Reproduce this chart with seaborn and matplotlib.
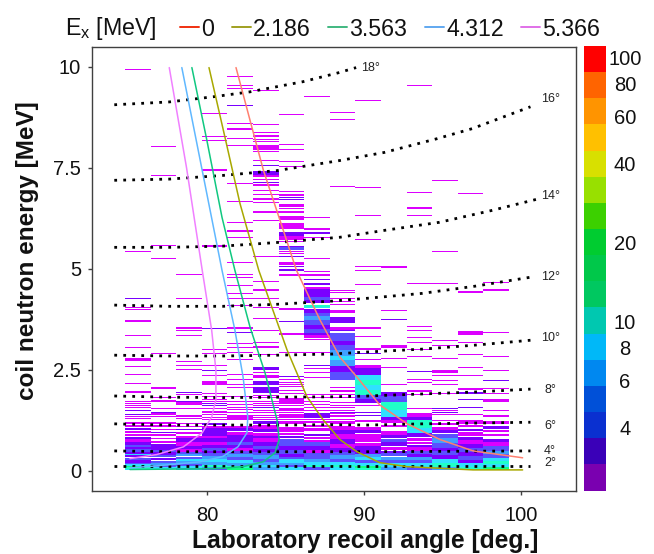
import pandas as pd
import matplotlib
matplotlib.use('Agg')
import matplotlib.pyplot as plt
from matplotlib.colors import ListedColormap, LogNorm
from matplotlib.cm import ScalarMappable
import seaborn as sns

# angular bins of the histogram [deg.]
angle_edges = [74.78, 76.41, 78.04, 79.67, 81.30, 82.93, 84.56, 86.19, 87.82,
               89.45, 91.08, 92.71, 94.34, 95.97, 97.60, 99.23]

# single counts per column, energy in MeV
c00_lines = [9.92, 5.42, 4.02, 3.97, 3.33, 3.03, 2.56, 2.36, 2.14, 1.70, 1.65, 1.60, 1.55, 1.32, 1.27]
c01_lines = [8.02, 7.30, 5.57, 5.25, 2.88, 1.79, 1.52, 1.33]
c02_lines = [4.85, 4.26, 3.52, 3.45, 3.33, 2.68, 2.58, 2.49, 1.87, 1.52, 1.34, 1.28]
c03_lines = [8.83, 8.26, 8.17, 7.43, 5.55, 2.98, 2.88, 2.58, 2.35, 1.90, 1.83, 1.75, 1.70, 1.52, 1.46, 1.42,
             1.37, 1.30, 1.26]
c04_lines = [9.75, 9.52, 9.45, 8.58, 8.21, 8.04, 7.10, 6.66, 6.14, 5.92, 5.75, 5.15, 4.84, 4.78, 4.57, 4.37,
             4.26, 4.07, 3.52, 3.13, 3.03, 2.91, 2.74, 2.36, 2.24, 2.11, 2.04, 1.82, 1.71, 1.63, 1.56, 1.50, 1.42]
c05_lines = [9.40, 8.56, 8.19, 8.13, 7.95, 7.89, 7.67, 7.20, 7.06, 6.92, 6.82, 6.63, 6.39, 6.17, 5.28, 4.68,
             4.46, 4.26, 4.02, 3.45, 3.16, 3.05, 2.86, 2.41, 1.85, 1.79, 1.71, 1.65, 1.60, 1.48, 1.42, 1.36, 1.30, 1.25]
c06_lines = [8.81, 8.07, 7.94, 7.65, 7.52, 6.90, 6.48, 5.65, 5.42, 5.36, 4.83, 3.37, 2.91, 2.24, 2.18, 2.12,
             2.07, 1.98, 1.90, 1.60, 1.43, 1.38, 1.34, 1.30, 1.26]
c07_lines = [9.25, 6.26, 5.97, 5.75, 5.25, 4.91, 4.83, 4.51, 3.23, 2.91, 2.51, 2.41, 2.29, 1.88, 1.79, 1.71,
             1.62, 1.55, 1.48, 1.26]
c08_lines = [8.86, 8.68, 7.03, 4.44, 4.39, 4.26, 4.18, 4.10, 2.04, 1.96, 1.88, 1.79, 1.67, 1.60, 1.55, 1.47,
             1.40, 1.34, 1.26]
c09_lines = [9.15, 7.00, 6.31, 5.70, 5.05, 4.94, 4.59, 3.52, 3.30, 3.00, 2.74, 1.60]
c10_lines = [5.03, 3.95, 2.76, 2.55, 2.12]
c11_lines = [9.53, 6.88, 6.49, 6.30, 4.63, 3.55, 3.45, 3.28, 3.15, 2.99, 2.81, 2.25, 2.18, 1.96, 1.88, 1.52]
c12_lines = [7.18, 5.42, 4.63, 3.21, 3.09, 2.76, 2.35, 2.21, 2.12, 1.90, 1.47, 1.38]
c13_lines = [6.85, 3.42, 3.37, 3.15, 2.86, 2.54, 2.35, 1.38]
c14_lines = [4.65, 4.46, 3.40, 2.81, 2.47, 2.02, 1.90, 1.47, 1.34]

# purple rows, two counts
c00_double = [4.24, 1.47, 1.37]
c01_double = [1.42]
c02_double = [1.92, 1.70]
c03_double = [3.50, 2.46, 1.65, 1.60]
c04_double = [9.03, 3.40]
c05_double = [7.55, 7.13, 2.53, 1.55]
c06_double = [6.76, 6.70, 6.20, 5.54, 5.28, 5.05, 4.95, 3.67, 2.31]
c07_double = [5.87, 4.72, 4.61, 2.58]
c08_double = [3.46, 1.42]
c09_double = [2.88, 1.42, 1.35]
c10_double = [3.72, 1.30]
c11_double = [2.45]
c12_double = [1.52, 1.42]
c13_double = [2.02, 1.75, 1.55]
c14_double = [2.22, 1.75]

# thicker blocks: low edge, high edge, level of the colour scale
c00_blocks = [(3.68, 3.73, 1), (2.72, 2.79, 1), (1.93, 1.97, 1),
              (1.15, 1.20, 1), (1.07, 1.12, 1), (1.00, 1.05, 2), (0.93, 0.99, 1), (0.86, 0.90, 1), (0.78, 0.84, 2),
              (0.70, 0.78, 1), (0.64, 0.70, 2), (0.58, 0.64, 3), (0.53, 0.58, 2), (0.47, 0.53, 3), (0.42, 0.47, 2),
              (0.40, 0.42, 5), (0.33, 0.39, 2), (0.27, 0.32, 3), (0.20, 0.26, 2), (0.16, 0.20, 3), (0.12, 0.16, 5),
              (0.09, 0.12, 7), (0.05, 0.09, 6), (0.02, 0.05, 5)]
c01_blocks = [(2.02, 2.07, 1), (1.70, 1.74, 1), (1.37, 1.42, 1),
              (1.15, 1.20, 1), (1.07, 1.12, 1), (1.00, 1.04, 1), (0.93, 0.97, 2), (0.85, 0.90, 1), (0.78, 0.82, 1),
              (0.68, 0.74, 1), (0.62, 0.66, 2), (0.52, 0.60, 2), (0.46, 0.52, 3), (0.40, 0.46, 2), (0.33, 0.38, 3),
              (0.26, 0.32, 2), (0.19, 0.25, 3), (0.14, 0.19, 4), (0.08, 0.14, 3), (0.03, 0.08, 5)]
c02_blocks = [(1.63, 1.70, 1),
              (1.15, 1.19, 1), (1.07, 1.11, 1), (1.00, 1.04, 2), (0.91, 0.97, 1), (0.80, 0.87, 1), (0.72, 0.80, 2),
              (0.62, 0.72, 1), (0.54, 0.62, 2), (0.47, 0.54, 1), (0.42, 0.47, 3), (0.37, 0.42, 4), (0.30, 0.34, 3),
              (0.23, 0.29, 5), (0.17, 0.23, 4), (0.11, 0.17, 3), (0.06, 0.11, 5), (0.02, 0.06, 4)]
c03_blocks = [(2.12, 2.21, 1),
              (1.12, 1.18, 2), (1.05, 1.10, 1), (0.97, 1.05, 2), (0.87, 0.95, 2), (0.80, 0.85, 1), (0.72, 0.80, 2),
              (0.64, 0.72, 1), (0.57, 0.64, 2), (0.50, 0.57, 3), (0.43, 0.50, 2), (0.36, 0.43, 3), (0.30, 0.36, 4),
              (0.22, 0.30, 5), (0.15, 0.22, 4), (0.10, 0.15, 6), (0.05, 0.10, 4), (0.02, 0.05, 3)]
c04_blocks = [(8.43, 8.49, 1), (1.26, 1.38, 1),
              (1.05, 1.10, 1), (0.98, 1.05, 2), (0.88, 0.96, 1), (0.80, 0.88, 2), (0.72, 0.80, 2), (0.64, 0.72, 3),
              (0.56, 0.64, 2), (0.48, 0.56, 1), (0.42, 0.48, 3), (0.34, 0.42, 4), (0.26, 0.34, 3), (0.18, 0.26, 5),
              (0.12, 0.18, 4), (0.07, 0.12, 6), (0.02, 0.07, 7)]
c05_blocks = [(8.35, 8.39, 1), (8.26, 8.32, 1), (7.99, 8.07, 1), (7.33, 7.42, 2), (7.27, 7.33, 1), (6.70, 6.76, 1),
              (3.75, 3.79, 1), (2.49, 2.53, 2), (2.29, 2.36, 1), (2.12, 2.21, 2), (1.92, 2.08, 2),
              (1.15, 1.22, 2), (1.03, 1.12, 1), (0.95, 1.03, 2), (0.87, 0.93, 1), (0.80, 0.87, 2), (0.70, 0.80, 1),
              (0.62, 0.70, 2), (0.54, 0.62, 3), (0.46, 0.54, 2), (0.38, 0.46, 3), (0.30, 0.38, 4), (0.22, 0.30, 3),
              (0.14, 0.22, 4), (0.08, 0.14, 5), (0.02, 0.08, 4)]
c06_blocks = [(6.79, 6.85, 1), (6.54, 6.61, 1), (6.38, 6.44, 1), (6.21, 6.31, 1), (5.98, 6.14, 1), (5.80, 5.90, 2),
              (5.70, 5.80, 1), (5.47, 5.54, 3), (5.09, 5.16, 1), (4.96, 5.00, 2), (3.98, 4.02, 1), (1.65, 1.79, 1),
              (1.47, 1.55, 1),
              (1.16, 1.22, 1), (1.02, 1.08, 1), (0.95, 1.00, 1), (0.88, 0.93, 1), (0.80, 0.86, 2), (0.72, 0.78, 3),
              (0.62, 0.72, 3), (0.52, 0.62, 2), (0.42, 0.52, 3), (0.34, 0.42, 2), (0.28, 0.34, 3), (0.20, 0.28, 5),
              (0.14, 0.20, 4), (0.08, 0.14, 3), (0.02, 0.08, 5)]
c07_blocks = [(4.30, 4.49, 2), (4.22, 4.30, 3), (4.14, 4.22, 2), (4.06, 4.10, 6), (4.02, 4.06, 5), (3.90, 4.00, 2),
              (3.84, 3.90, 3), (3.72, 3.84, 4), (3.60, 3.72, 3), (3.50, 3.60, 2), (3.42, 3.50, 3), (3.36, 3.42, 2),
              (3.28, 3.36, 1), (1.30, 1.42, 2),
              (1.17, 1.22, 1), (1.08, 1.12, 1), (0.98, 1.05, 1), (0.85, 0.92, 2), (0.78, 0.84, 1), (0.72, 0.77, 1),
              (0.62, 0.70, 3), (0.52, 0.62, 2), (0.44, 0.52, 1), (0.38, 0.44, 3), (0.30, 0.38, 3), (0.22, 0.30, 4),
              (0.14, 0.22, 5), (0.08, 0.14, 6), (0.02, 0.08, 3)]
c08_blocks = [(3.91, 3.97, 1), (3.65, 3.81, 2), (3.48, 3.56, 1), (3.20, 3.40, 3), (3.10, 3.20, 2), (3.00, 3.10, 3),
              (2.85, 3.00, 4), (2.75, 2.85, 5), (2.60, 2.75, 4), (2.45, 2.58, 2), (2.25, 2.45, 3),
              (1.16, 1.24, 1), (1.02, 1.10, 1), (0.92, 1.02, 2), (0.78, 0.92, 1), (0.66, 0.78, 2), (0.56, 0.66, 1),
              (0.46, 0.56, 2), (0.38, 0.46, 3), (0.30, 0.38, 4), (0.22, 0.30, 3), (0.14, 0.22, 5), (0.08, 0.14, 6),
              (0.02, 0.08, 5)]
c09_blocks = [(2.54, 2.62, 1), (2.37, 2.54, 2), (2.25, 2.37, 5), (2.12, 2.25, 6), (2.00, 2.12, 5), (1.88, 2.00, 6),
              (1.77, 1.88, 3), (1.67, 1.77, 2),
              (1.20, 1.25, 1), (1.02, 1.08, 1), (0.94, 1.00, 2), (0.82, 0.92, 1), (0.72, 0.82, 1), (0.60, 0.68, 1),
              (0.50, 0.60, 2), (0.42, 0.50, 2), (0.34, 0.42, 4), (0.26, 0.34, 5), (0.20, 0.26, 3), (0.12, 0.20, 5),
              (0.07, 0.12, 7), (0.02, 0.07, 6)]
c10_blocks = [(3.05, 3.11, 1), (1.85, 1.96, 2), (1.71, 1.85, 3), (1.50, 1.71, 6), (1.34, 1.50, 5), (1.26, 1.34, 2),
              (1.18, 1.25, 1), (1.08, 1.13, 1), (0.88, 0.98, 1), (0.80, 0.88, 2), (0.72, 0.78, 3), (0.62, 0.72, 2),
              (0.52, 0.58, 1), (0.44, 0.50, 2), (0.36, 0.44, 3), (0.26, 0.34, 4), (0.18, 0.26, 3), (0.10, 0.18, 5),
              (0.02, 0.10, 4)]
c11_blocks = [(1.32, 1.42, 1), (1.25, 1.32, 2),
              (1.06, 1.25, 6), (0.93, 1.06, 5), (0.84, 0.93, 2), (0.74, 0.82, 1), (0.66, 0.72, 1), (0.58, 0.64, 2),
              (0.50, 0.58, 1), (0.42, 0.50, 3), (0.34, 0.42, 2), (0.26, 0.34, 4), (0.18, 0.26, 3), (0.10, 0.18, 5),
              (0.02, 0.10, 3)]
c12_blocks = [(2.41, 2.49, 1),
              (1.22, 1.25, 1), (1.12, 1.18, 1), (1.02, 1.08, 1), (0.94, 1.02, 2), (0.82, 0.92, 3), (0.68, 0.82, 4),
              (0.56, 0.68, 3), (0.48, 0.56, 2), (0.40, 0.48, 3), (0.30, 0.40, 2), (0.20, 0.30, 5), (0.10, 0.20, 6),
              (0.02, 0.10, 4)]
c13_blocks = [(4.40, 4.44, 1), (2.00, 2.04, 1), (1.90, 1.96, 2),
              (1.16, 1.25, 1), (1.07, 1.14, 1), (0.98, 1.04, 2), (0.86, 0.96, 1), (0.76, 0.84, 2), (0.66, 0.76, 1),
              (0.56, 0.66, 2), (0.46, 0.56, 3), (0.36, 0.46, 2), (0.26, 0.36, 3), (0.18, 0.26, 2), (0.10, 0.18, 5),
              (0.02, 0.10, 6)]
c14_blocks = [(1.71, 1.77, 1),
              (1.16, 1.22, 1), (1.04, 1.10, 2), (0.96, 1.02, 1), (0.86, 0.92, 1), (0.72, 0.78, 2), (0.60, 0.70, 1),
              (0.50, 0.60, 3), (0.42, 0.50, 4), (0.32, 0.42, 3), (0.24, 0.32, 5), (0.16, 0.24, 6), (0.09, 0.16, 5),
              (0.02, 0.09, 7)]

all_lines = [c00_lines, c01_lines, c02_lines, c03_lines, c04_lines, c05_lines, c06_lines, c07_lines,
             c08_lines, c09_lines, c10_lines, c11_lines, c12_lines, c13_lines, c14_lines]
all_double = [c00_double, c01_double, c02_double, c03_double, c04_double, c05_double, c06_double, c07_double,
              c08_double, c09_double, c10_double, c11_double, c12_double, c13_double, c14_double]
all_blocks = [c00_blocks, c01_blocks, c02_blocks, c03_blocks, c04_blocks, c05_blocks, c06_blocks, c07_blocks,
              c08_blocks, c09_blocks, c10_blocks, c11_blocks, c12_blocks, c13_blocks, c14_blocks]

cell_colors = ['#dc00ff', '#7a00ff', '#5a50ff', '#40a0ff', '#30e0ff', '#20ffc8', '#10ff80']

# kinematic curves
gs_angle = [81.85, 82.87, 83.6, 84.65, 85.7, 87.2, 88.47, 89.55, 91.0, 92.75, 94.85, 96.95, 100.1]
gs_energy = [9.98, 8.49, 7.43, 6.2, 4.96, 3.73, 2.81, 2.32, 1.63, 1.16, 0.77, 0.49, 0.32]
ex2_angle = [80.13, 81.15, 82.1, 83.3, 85.1, 86.37, 87.4, 88.47, 89.55, 91, 92.75, 96.95, 100.1]
ex2_energy = [9.98, 8.25, 6.62, 4.96, 2.99, 1.83, 1.26, 0.77, 0.47, 0.2, 0.1, 0.02, 0.02]
ex3_angle = [79.04, 80, 80.96, 81.78, 82.74, 83.7, 84.46, 84.6, 84.33, 83.57, 82.3, 80.6, 75.1]
ex3_energy = [9.98, 8.17, 6.27, 4.96, 3.56, 2.42, 1.26, 0.77, 0.44, 0.22, 0.1, 0.05, 0.03]
ex4_angle = [78.4, 79.7, 80.96, 81.78, 82.3, 82.6, 82.55, 81.97, 81, 79.55, 76.8, 75.1]
ex4_energy = [9.98, 7.43, 4.96, 3.48, 2.32, 1.33, 0.94, 0.59, 0.35, 0.22, 0.12, 0.07]
ex5_angle = [77.6, 78.7, 79.7, 80.3, 80.57, 80.57, 80.3, 79.7, 78.5, 76.8, 75.1]
ex5_energy = [9.98, 7.5, 4.96, 3.48, 2.49, 1.75, 1.33, 0.94, 0.59, 0.4, 0.3]

curve_names = ['0', '2.186', '3.563', '4.312', '5.366']
curve_angles = [gs_angle, ex2_angle, ex3_angle, ex4_angle, ex5_angle]
curve_energies = [gs_energy, ex2_energy, ex3_energy, ex4_energy, ex5_energy]
curve_colors = ['#ff8070', '#a8a800', '#10c880', '#60b8ff', '#f080ff']
legend_colors = ['#f03010', '#a0a020', '#40b880', '#60a8f0', '#e070e8']

# constant neutron lab angle lines
a18_x = [74.1, 77.6, 80.45, 82.74, 86.1, 88.35, 89.5]
a18_y = [9.06, 9.13, 9.26, 9.38, 9.63, 9.85, 9.98]
a16_x = [74.1, 77.6, 81, 84.46, 88.47, 91.3, 94.65, 96.9, 100.6]
a16_y = [7.19, 7.22, 7.31, 7.43, 7.68, 7.88, 8.22, 8.47, 9.01]
a14_x = [74.1, 77.6, 81, 84.46, 88.47, 91.3, 94.8, 98.1, 101]
a14_y = [5.53, 5.53, 5.56, 5.65, 5.78, 5.95, 6.15, 6.44, 6.72]
a12_x = [74.1, 77.6, 81, 84.46, 88, 90.25, 93.7, 97.1, 100.6]
a12_y = [4.1, 4.07, 4.07, 4.12, 4.2, 4.27, 4.39, 4.57, 4.79]
a10_x = [74.1, 77.6, 81, 84.46, 88, 90.25, 93.7, 97.1, 100.6]
a10_y = [2.86, 2.84, 2.84, 2.86, 2.89, 2.94, 3.01, 3.11, 3.23]
a08_x = [74.1, 77.6, 81, 84.46, 88, 90.25, 93.7, 97.1, 100.6]
a08_y = [1.85, 1.82, 1.81, 1.82, 1.83, 1.85, 1.9, 1.95, 2.02]
a06_x = [74.1, 77.6, 81, 84.46, 88, 90.25, 93.7, 97.1, 100.6]
a06_y = [1.16, 1.13, 1.13, 1.13, 1.14, 1.13, 1.16, 1.18, 1.2]
a04_x = [74.1, 77.6, 90.25, 100.6]
a04_y = [0.49, 0.47, 0.47, 0.49]
a02_x = [74.1, 100.6]
a02_y = [0.12, 0.12]
iso_x = [a18_x, a16_x, a14_x, a12_x, a10_x, a08_x, a06_x, a04_x, a02_x]
iso_y = [a18_y, a16_y, a14_y, a12_y, a10_y, a08_y, a06_y, a04_y, a02_y]
iso_names = ['18°', '16°', '14°', '12°', '10°', '8°', '6°', '4°', '2°']
iso_label_y = [9.98, 9.2, 6.8, 4.79, 3.28, 2.0, 1.11, 0.49, 0.19]

# colour scale
scale_colors = ['#7a00b0', '#3a00b8', '#0a30d0', '#0050d8', '#0088f0', '#00b8f8', '#00c8b0', '#00c860', '#00c84a',
                '#00cc30', '#3cd000', '#98e000', '#d8e000', '#ffc000', '#ff9400', '#ff6400', '#ff0000']
scale_ticks = [4, 6, 8, 10, 20, 40, 60, 80, 100]

sns.set_theme(style='ticks')
plt.rcParams['font.family'] = ['Liberation Sans', 'DejaVu Sans']
plt.rcParams['axes.edgecolor'] = '#404040'

fig = plt.figure(figsize=(6.54, 5.54), dpi=100)
ax = fig.add_axes([92 / 654, 1 - 490.5 / 554, 484 / 654, 443.5 / 554])

row_h = 0.028
for k in range(15):
    left = angle_edges[k]
    w = angle_edges[k + 1] - left
    ax.barh(all_lines[k], w, left=left, height=row_h, align='edge', color=cell_colors[0], linewidth=0)
    ax.barh(all_double[k], w, left=left, height=row_h, align='edge', color=cell_colors[1], linewidth=0)
    for lo, hi, level in all_blocks[k]:
        ax.barh(lo, w, left=left, height=hi - lo, align='edge', color=cell_colors[level - 1], linewidth=0)

for xs, ys in zip(iso_x, iso_y):
    ax.plot(xs, ys, color='black', lw=2, linestyle=(0, (1, 2.24)), dash_capstyle='butt', zorder=4)

for name, xs, ys, col in zip(curve_names, curve_angles, curve_energies, curve_colors):
    df = pd.DataFrame({'angle': xs, 'energy': ys})
    sns.lineplot(data=df, x='angle', y='energy', sort=False, estimator=None, color=col, lw=1.1, ax=ax, zorder=5,
                 legend=False)

for name, y in zip(iso_names, iso_label_y):
    xpos = 90.4 if name == '18°' else 101.85
    ax.text(xpos, y, name, fontsize=9, ha='center', va='center', color='#222222')

ax.set_xlim(72.68, 103.5)
ax.set_ylim(-0.49, 10.49)
ax.set_xticks([80, 90, 100])
ax.set_yticks([0, 2.5, 5, 7.5, 10])
ax.set_yticklabels(['0', '2.5', '5', '7.5', '10'])
ax.tick_params(labelsize=14.5, length=3, width=1, color='#404040', labelcolor='#111111')
ax.tick_params(axis='x', pad=8)
ax.tick_params(axis='y', pad=5)
for s in ['top', 'right', 'left', 'bottom']:
    ax.spines[s].set_visible(True)
    ax.spines[s].set_linewidth(1)
ax.set_xlabel('')
ax.set_ylabel('')
fig.text(365.5 / 654, 1 - 541 / 554, 'Laboratory recoil angle [deg.]', fontsize=17.7, fontweight='bold',
         ha='center', va='center', color='#111111')
fig.text(28 / 654, 1 - 250.5 / 554, 'coil neutron energy [MeV]', fontsize=17.5, fontweight='bold', rotation=90,
         ha='center', va='center', color='#111111')

# legend strip above the plot
fig.text(65 / 654, 1 - 29 / 554, 'E$_{\\mathregular{x}}$ [MeV]', fontsize=16.7, ha='left', va='center',
         color='#111111')
handles = [plt.Line2D([], [], color=c, lw=1.4) for c in legend_colors]
fig.legend(handles, curve_names, loc='center left', bbox_to_anchor=(180 / 654, 1 - 29 / 554), ncol=5, frameon=False,
           fontsize=16.7, handlelength=0.82, handletextpad=0.1, columnspacing=0.75, labelcolor='#111111',
           borderpad=0, borderaxespad=0)

cax = fig.add_axes([584 / 654, 1 - 490.5 / 554, 21.5 / 654, 444.5 / 554])
sm = ScalarMappable(norm=LogNorm(2.3, 111), cmap=ListedColormap(scale_colors))
cb = fig.colorbar(sm, cax=cax, ticks=scale_ticks)
cb.ax.set_yticklabels([str(t) for t in scale_ticks])
cb.ax.minorticks_off()
cb.ax.tick_params(length=0, labelsize=14.5, labelcolor='#111111', pad=14)
cb.outline.set_visible(False)
for lab in cb.ax.get_yticklabels():
    lab.set_ha('center')

fig.savefig('out.png', dpi=100)
